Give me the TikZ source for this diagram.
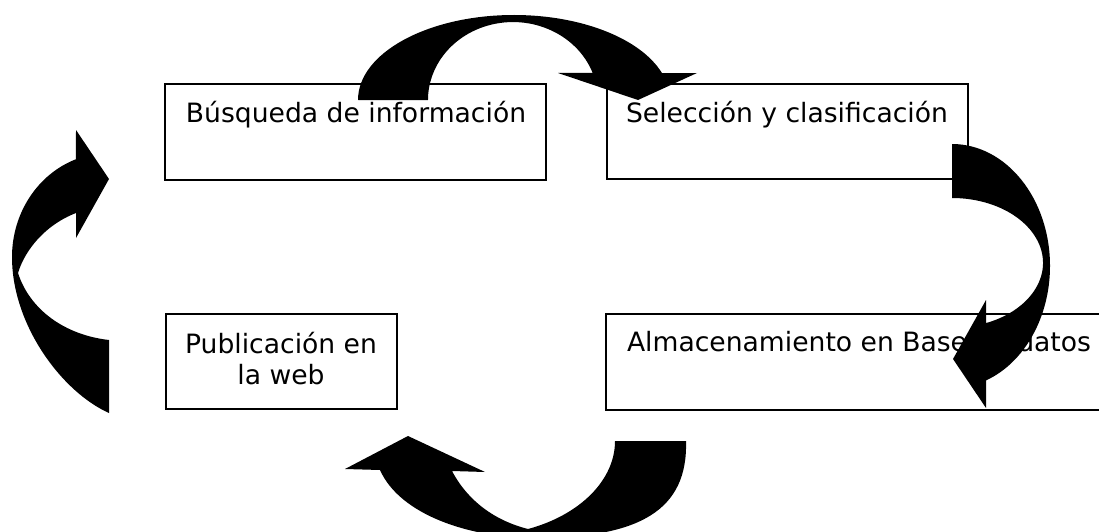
\documentclass[tikz,border=0pt]{standalone}
\usepackage{fontspec}
\setmainfont{DejaVu Sans}
\begin{document}
\begin{tikzpicture}[x=1pt,y=-1pt,
  box/.style={draw=black,line width=1.3pt,rectangle,inner sep=0pt},
  lbl/.style={inner sep=0pt,anchor=base,font=\fontsize{26.6}{31}\selectfont},
  blk/.style={fill=black,draw=none}]
\useasboundingbox (0,0) rectangle (1099,532);
\clip (0,0) rectangle (1099,532);
\fill[white] (0,0) rectangle (1099,532);
% boxes
\node[box,minimum width=381pt,minimum height=96pt] (b1) at (355.5,132) {};
\node[box,minimum width=361pt,minimum height=95pt] (b2) at (787.5,131.5) {};
\node[box,minimum width=231pt,minimum height=95pt] (b3) at (281.5,361.5) {};
\node[box,minimum width=506pt,minimum height=96pt] (b4) at (859,362) {};
% labels
\node[lbl] (t1) at (356,123) {Búsqueda de información};
\node[lbl] (t2) at (787,122) {Selección y clasificación};
\node[lbl] (t3a) at (281,353) {Publicación en};
\node[lbl] (t3b) at (281,384) {la web};
\node[lbl] (t4) at (859,351) {Almacenamiento en Base de datos};
% top curved arrow
\fill[blk] (358,100) arc[start angle=180,end angle=341.6,x radius=156,y radius=85]
  -- (697,73) -- (638,100) -- (558,73) -- (592.7,73)
  arc[start angle=339.7,end angle=180,x radius=85,y radius=78] -- cycle;
% right curved arrow
\fill[blk] (952,144) arc[start angle=270,end angle=429.7,x radius=98,y radius=122]
  -- (986,408) -- (953,359) -- (986,300) -- (986,323.1)
  arc[start angle=68.06,end angle=-90,x radius=91,y radius=64.9] -- cycle;
% bottom curved arrow
\fill[blk] (686,441) .. controls (688,510) and (640,538) .. (535,538)
  .. controls (470,538) and (400,515) .. (380,470)
  -- (345,469) -- (408,436) -- (485,472) -- (452,471)
  .. controls (470,505) and (500,522) .. (528,529)
  .. controls (580,515) and (615,480) .. (615,441) -- cycle;
% left curved arrow
\fill[blk] (109,413) .. controls (62,392) and (12,325) .. (12,257)
  arc[start angle=180,end angle=250.1,x radius=97,y radius=104]
  -- (76,130) -- (109,179) -- (76,238) -- (76,213)
  .. controls (45,225) and (25,250) .. (18,273)
  .. controls (30,310) and (65,335) .. (109,340) -- cycle;
\end{tikzpicture}
\end{document}
